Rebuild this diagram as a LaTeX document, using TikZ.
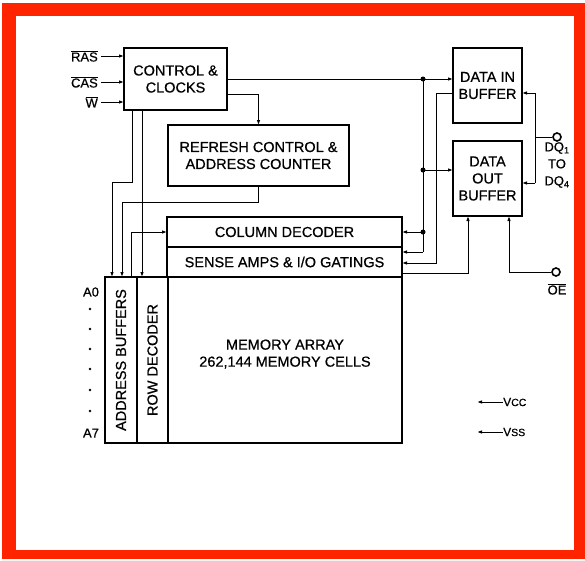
\documentclass[tikz,border=0pt]{standalone}
\usepackage{fontspec}
\setmainfont{Liberation Sans}[FakeBold=0.6]
\usetikzlibrary{arrows.meta}
\definecolor{framered}{RGB}{255,36,0}
\newcommand\ovl[1]{$\overline{\hbox{#1}}$}
\begin{document}
\begin{tikzpicture}[x=1pt,y=-1pt,
  box/.style={draw, line width=2.7pt, inner sep=0pt, outer sep=0pt, anchor=north west, align=center,
    font=\fontsize{14.5}{17}\selectfont},
  lbl/.style={inner sep=0pt, align=center, font=\fontsize{14.5}{17}\selectfont},
  sig/.style={inner sep=0pt, align=center, font=\fontsize{13}{17}\selectfont},
  wire/.style={line width=1pt},
  arr/.style={wire, -{Latex[length=5pt,width=3.6pt]}},
  jdot/.style={circle, fill, inner sep=0pt, minimum size=5pt},
  term/.style={circle, draw, line width=1.6pt, minimum size=8pt, inner sep=0pt, fill=white},
  adot/.style={circle, fill, inner sep=0pt, minimum size=2.8pt}]
\useasboundingbox (0,0) rectangle (585,560);
\fill[framered] (2,3) rectangle (585,559);
\fill[white] (16,16) rectangle (574,550);

% blocks
\node[box, minimum width=103pt, minimum height=62pt] (ctrl) at (124,48) {CONTROL \&\\CLOCKS};
\node[box, minimum width=181pt, minimum height=61pt] (refresh) at (168,125) {REFRESH CONTROL \&\\ADDRESS COUNTER};
\node[box, minimum width=235pt, minimum height=30pt] (coldec) at (167,217) {COLUMN DECODER};
\node[box, minimum width=235pt, minimum height=30pt] (sense) at (167,247) {SENSE AMPS \& I/O GATINGS};
\node[box, minimum width=32pt, minimum height=166pt] (addr) at (105,277) {\rotatebox{90}{ADDRESS BUFFERS}};
\node[box, minimum width=31pt, minimum height=166pt] (rowdec) at (137,277) {\rotatebox{90}{ROW DECODER}};
\node[box, minimum width=234pt, minimum height=166pt] (mem) at (168,277) {};
\node[lbl] (memtxt) at (285,354) {MEMORY ARRAY\\262,144 MEMORY CELLS};
\node[box, minimum width=69pt, minimum height=75pt] (datain) at (453,48) {DATA IN\\BUFFER};
\node[box, minimum width=69pt, minimum height=75pt] (dataout) at (453,141) {DATA\\OUT\\BUFFER};

% terminals
\node[term] (dq) at (557,137) {};
\node[term] (oe) at (556,272) {};
\node[sig] (dqlbl) at (557,165) {DQ\textsubscript{1}\\TO\\DQ\textsubscript{4}};
\node[sig] (oelbl) at (557,289) {\ovl{OE}};

% inputs to control
\node[sig, anchor=east] (ras) at (98,56) {\ovl{RAS}};
\node[sig, anchor=east] (cas) at (98,82) {\ovl{CAS}};
\node[sig, anchor=east] (wr) at (98,102) {\ovl{W}};
\draw[arr, shorten <=3pt] (ras.east) -- (ras.east -| ctrl.west);
\draw[arr, shorten <=3pt] (cas.east) -- (cas.east -| ctrl.west);
\draw[arr, shorten <=3pt] (wr.east) -- (wr.east -| ctrl.west);

% address labels
\node[sig] (a0) at (91,292) {A0};
\node[sig] (a7) at (91,433) {A7};
\foreach \i/\yy in {1/309,2/329,3/349,4/369,5/390,6/411}
  \node[adot] (ad\i) at (90,\yy) {};

% control -> data in, bus
\coordinate (j1) at (423,79);
\coordinate (j2) at (423,170);
\coordinate (j3) at (423,232);
\coordinate (j4) at (423,252);
\draw[arr] (ctrl.east) -- (ctrl.east -| datain.west);
\draw[wire] (j1) -- (j4);
\draw[arr] (j2) -- (j2 -| dataout.west);
\draw[arr] (j3) -- (j3 -| coldec.east);
\draw[arr] (j4) -- (j4 -| sense.east);
\node[jdot] (dot1) at (j1) {};
\node[jdot] (dot2) at (j2) {};
\node[jdot] (dot3) at (j3) {};

% control -> refresh
\coordinate (t1) at (258.5,94);
\draw[arr] (ctrl.east |- t1) -- (t1) -- (refresh.north);

% refresh -> address buffers
\coordinate (r1) at (258.5,202);
\coordinate (r2) at (122,202);
\draw[arr] (refresh.south) -- (r1) -- (r2) -- (r2 |- addr.north);

% control -> address buffers / row decoder
\coordinate (c1) at (132,182);
\coordinate (c2) at (112,182);
\draw[arr] (ctrl.south -| c1) -- (c1) -- (c2) -- (c2 |- addr.north);
\coordinate (c3) at (142,200);
\draw[arr] (ctrl.south -| c3) -- (c3 |- rowdec.north);

% address buffers -> column decoder
\coordinate (a1) at (131,232);
\draw[arr] (a1 |- addr.north) -- (a1) -- (coldec.west);

% data in -> sense amps
\coordinate (k1) at (436,93);
\coordinate (k2) at (436,263);
\draw[arr] (k1 -| datain.west) -- (k1) -- (k2) -- (k2 -| sense.east);

% sense amps -> data out
\coordinate (m1) at (468,273);
\draw[arr] (m1 -| sense.east) -- (m1) -- (m1 |- dataout.south);

% OE -> data out
\coordinate (o1) at (509,272);
\draw[arr] (oe) -- (o1) -- (o1 |- dataout.south);

% DQ
\coordinate (q0) at (535,137);
\coordinate (q1) at (535,93);
\coordinate (q2) at (535,183);
\draw[wire] (dq) -- (q0);
\draw[wire] (q1) -- (q2);
\draw[arr] (q1) -- (q1 -| datain.east);
\draw[arr] (q2) -- (q2 -| dataout.east);

% power
\node[sig, anchor=west, font=\fontsize{12}{14}\selectfont] (vcc) at (503,402) {V{\fontsize{10.5}{12}\selectfont CC}};
\node[sig, anchor=west, font=\fontsize{12}{14}\selectfont] (vss) at (503,432) {V{\fontsize{10.5}{12}\selectfont SS}};
\coordinate (vccend) at (477,402);
\coordinate (vssend) at (477,432);
\draw[arr] (vcc.west) -- (vccend);
\draw[arr] (vss.west) -- (vssend);
\end{tikzpicture}
\end{document}
